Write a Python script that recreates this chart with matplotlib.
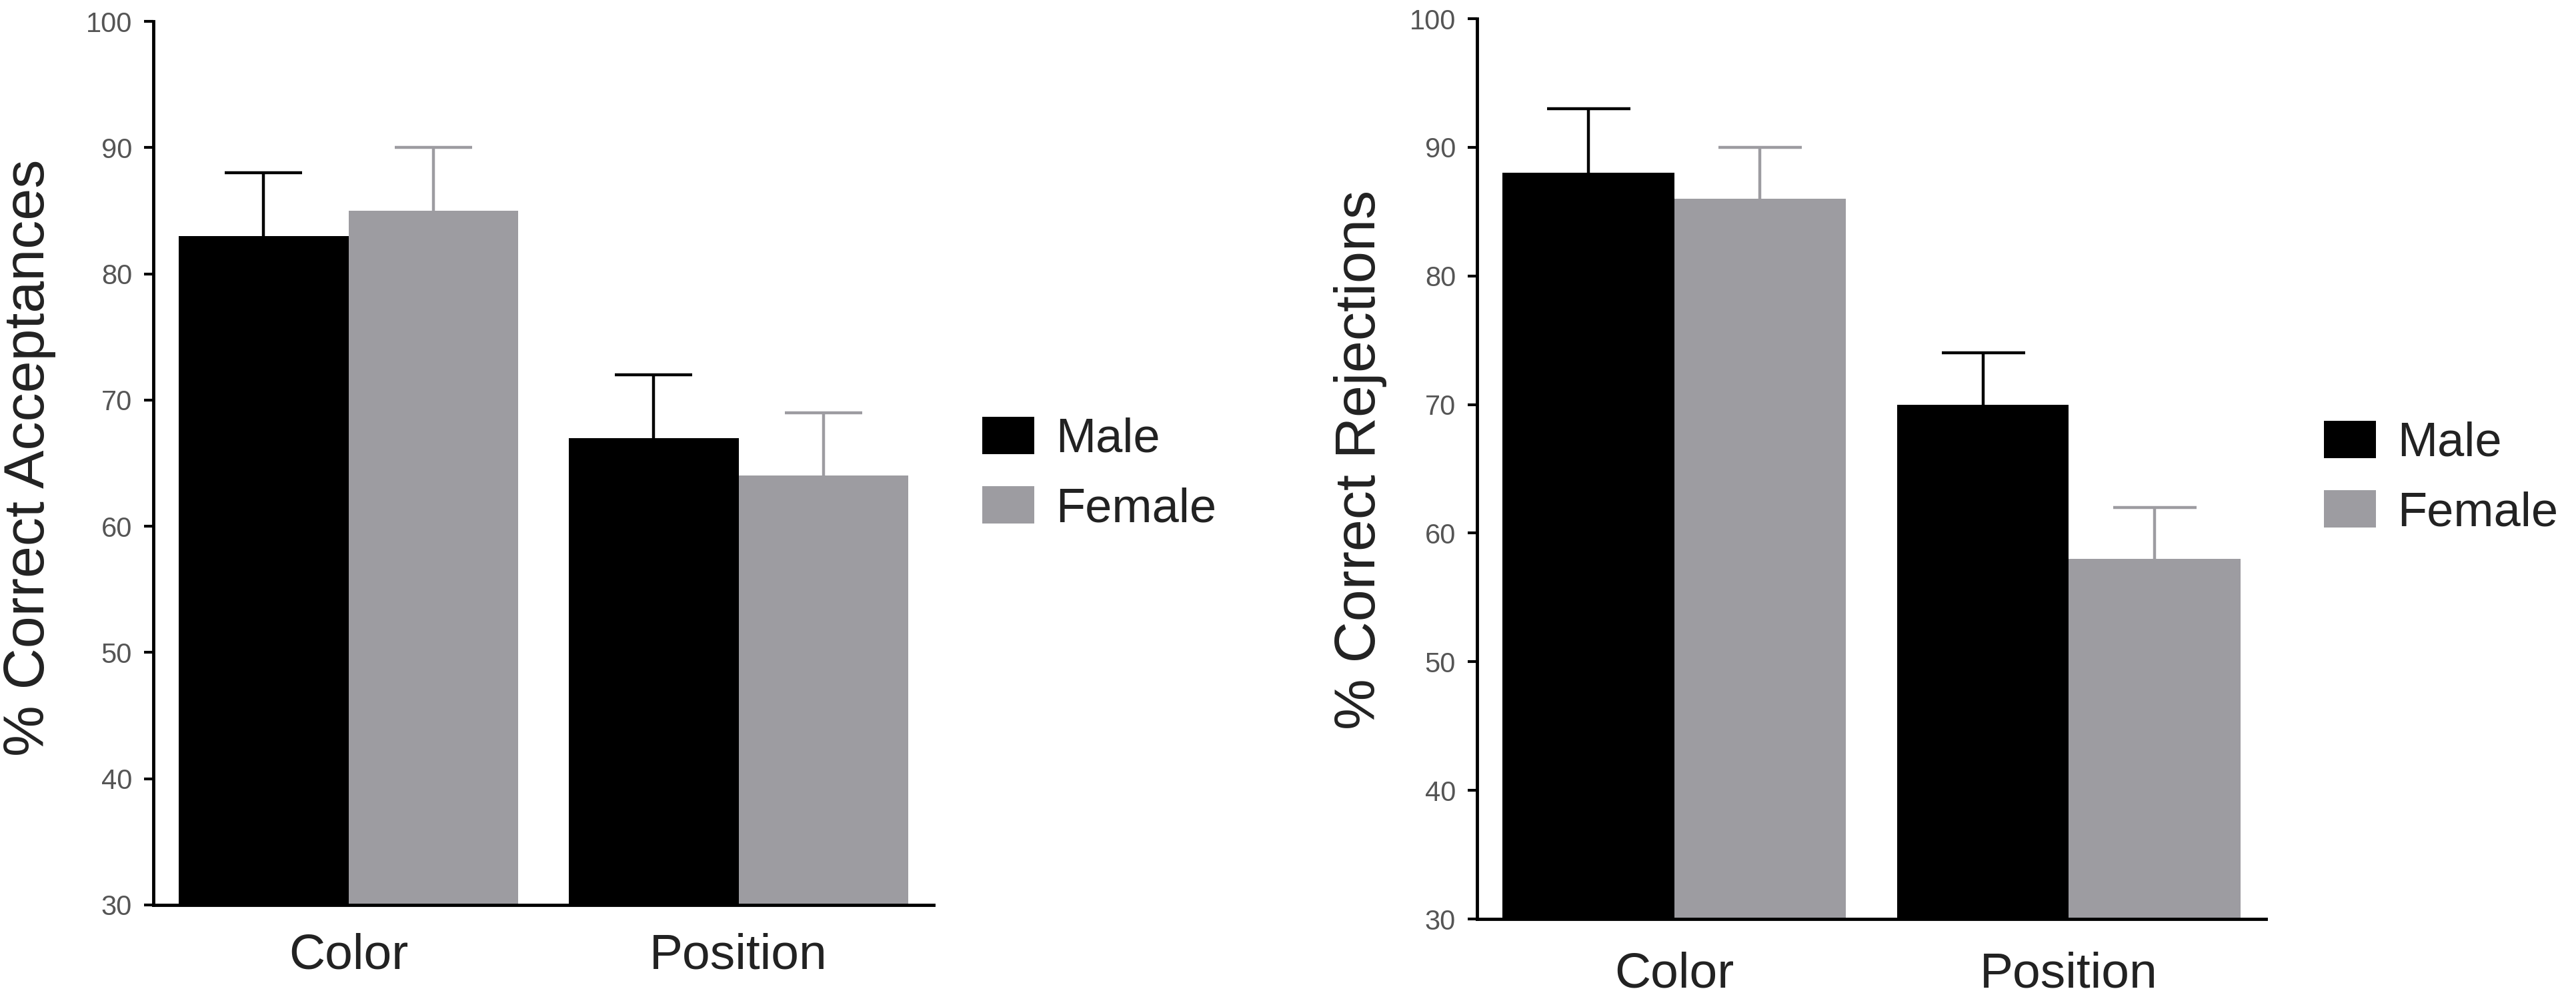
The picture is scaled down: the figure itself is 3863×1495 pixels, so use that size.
import matplotlib
matplotlib.use("Agg")
import matplotlib.pyplot as plt
from matplotlib.patches import Patch
import numpy as np

plt.rcParams['font.family'] = ['Liberation Sans', 'DejaVu Sans']

# ---- data ----
categories = ["Color", "Position"]
series_names = ["Male", "Female"]

acc_male = [83, 67]
acc_male_err = [5, 5]
acc_female = [85, 64]
acc_female_err = [5, 5]

rej_male = [88, 70]
rej_male_err = [5, 4]
rej_female = [86, 58]
rej_female_err = [4, 4]

yticks = [30, 40, 50, 60, 70, 80, 90, 100]

ylabel_left = "% Correct Acceptances"
ylabel_right = "% Correct Rejections"

# ---- style ----
BLACK = "#000000"
GRAY = "#9d9ca1"
TEXT = "#222222"
TICKTXT = "#555555"

W, H, DPI = 3863, 1495, 100
fig = plt.figure(figsize=(W / DPI, H / DPI), dpi=DPI)
fig.patch.set_facecolor("white")


def panel(rect, male, male_err, female, female_err, ylabel, cap_pt, xpad,
          label_xy, legend_anchor):
    ax = fig.add_axes(rect)
    x = np.arange(len(categories))
    w = 0.435
    # error bars drawn behind the bars so only the upper half shows
    ax.errorbar(x - w / 2, male, yerr=male_err,
                fmt="none", ecolor=BLACK, elinewidth=3.2, capsize=cap_pt,
                capthick=3.2, zorder=1)
    ax.errorbar(x + w / 2, female, yerr=female_err,
                fmt="none", ecolor=GRAY, elinewidth=3.2, capsize=cap_pt,
                capthick=3.2, zorder=1)
    ax.bar(x - w / 2, male, width=w, color=BLACK, zorder=2)
    ax.bar(x + w / 2, female, width=w, color=GRAY, zorder=2)
    ax.set_xlim(-0.5, 1.5)
    ax.set_ylim(30, 100)
    ax.set_yticks(yticks)
    ax.set_yticklabels([str(t) for t in yticks])
    ax.set_xticks(x)
    ax.set_xticklabels(categories, fontsize=54, color=TEXT)
    for s in ["top", "right"]:
        ax.spines[s].set_visible(False)
    for s in ["left", "bottom"]:
        ax.spines[s].set_linewidth(3.5)
        ax.spines[s].set_color(BLACK)
    ax.tick_params(axis="x", length=0, pad=xpad)
    ax.tick_params(axis="y", length=10, width=3, color=BLACK, pad=13,
                   labelsize=30, labelcolor=TICKTXT)
    ax.set_ylabel(ylabel, fontsize=62, color=TEXT)
    ax.yaxis.label.set_va("center")
    ax.yaxis.set_label_coords(*label_xy)
    handles = [Patch(facecolor=BLACK, edgecolor="none", label=series_names[0]),
               Patch(facecolor=GRAY, edgecolor="none", label=series_names[1])]
    leg = ax.legend(handles=handles, loc="center left",
                    bbox_to_anchor=legend_anchor,
                    bbox_transform=fig.transFigure, frameon=False,
                    fontsize=52, handlelength=1.08, handleheight=0.82,
                    handletextpad=0.45, labelspacing=0.5, borderpad=0,
                    borderaxespad=0)
    for t in leg.get_texts():
        t.set_color(TEXT)
    return ax


panel([230 / W, 1 - 1357 / H, 1170 / W, 1325 / H],
      acc_male, acc_male_err, acc_female, acc_female_err, ylabel_left,
      cap_pt=42, xpad=30, label_xy=(-0.159, 0.506),
      legend_anchor=(1473 / W, 1 - 711 / H))

panel([2215 / W, 1 - 1378 / H, 1183 / W, 1350 / H],
      rej_male, rej_male_err, rej_female, rej_female_err, ylabel_right,
      cap_pt=45, xpad=35, label_xy=(-0.148, 0.51),
      legend_anchor=(3485 / W, 1 - 717 / H))

fig.savefig("out.png", dpi=DPI, facecolor="white")
